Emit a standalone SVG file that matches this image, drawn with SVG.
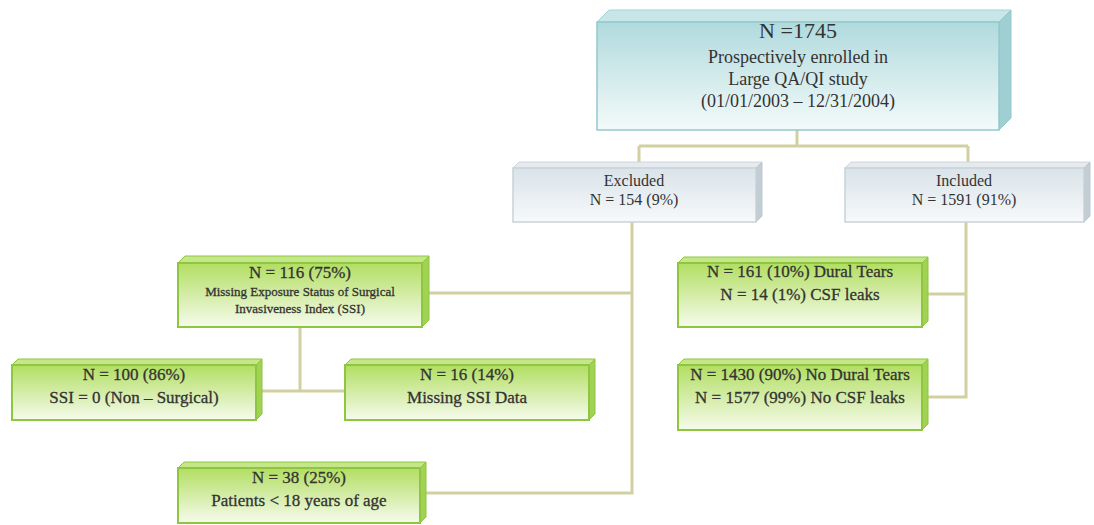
<svg xmlns="http://www.w3.org/2000/svg" width="1094" height="525" viewBox="0 0 1094 525">
<defs>
<linearGradient id="gTeal" x1="0" y1="0" x2="0" y2="1"><stop offset="0" stop-color="#b0dadd"/><stop offset="1" stop-color="#f4fafa"/></linearGradient>
<linearGradient id="gGray" x1="0" y1="0" x2="0" y2="1"><stop offset="0" stop-color="#d9e3e9"/><stop offset="1" stop-color="#f7f9fa"/></linearGradient>
<linearGradient id="gGreen" x1="0" y1="0" x2="0" y2="1"><stop offset="0" stop-color="#b2de62"/><stop offset="1" stop-color="#f6fbec"/></linearGradient>
</defs>
<style>
.teal .front{fill:url(#gTeal);stroke:#93c9cc;stroke-width:1.5}
.teal .top{fill:#c8e6e8;stroke:#a6d3d6;stroke-width:1}
.teal .side{fill:#9fcfd2;stroke:#93c9cc;stroke-width:1}
.gray .front{fill:url(#gGray);stroke:#c8d2d8;stroke-width:1.5}
.gray .top{fill:#e4eaee;stroke:#cdd6dc;stroke-width:1}
.gray .side{fill:#c3cdd4;stroke:#bcc7ce;stroke-width:1}
.green .front{fill:url(#gGreen);stroke:#8dc63f;stroke-width:2}
.green .top{fill:#c6e789;stroke:#8dc63f;stroke-width:1}
.green .side{fill:#a2d254;stroke:#8dc63f;stroke-width:1}
.conn{fill:none;stroke:#d2d0a2;stroke-width:3}
text{font-family:"Liberation Serif","Times New Roman",serif;text-anchor:middle;fill:#333}
.big{font-size:22px}
.t18{font-size:18px}
.t16{font-size:16px}
.gt{font-size:17px;stroke:#333;stroke-width:0.3}
.gs{font-size:13px;stroke:#333;stroke-width:0.3}
</style>
<g id="connectors">
<path class="conn" d="M797 130 V146 M639 146 H968 M639 146 V163 M968 146 V163"/>
<path class="conn" d="M632 222 V493 H426 M632 293 H428"/>
<path class="conn" d="M966 222 V397 H928 M928 294 H966"/>
<path class="conn" d="M300 327 V391 M262 391 H345"/>
</g>
<g id="top" class="teal">
<polygon class="top" points="597,22 609,10 1011,10 999,22"/>
<polygon class="side" points="999,22 1011,10 1011,118 999,130"/>
<rect class="front" x="597" y="22" width="402" height="108"/>
<text class="big" x="798" y="38">N =1745</text>
<text class="t18" x="798" y="63">Prospectively enrolled in</text>
<text class="t18" x="798" y="85">Large QA/QI study</text>
<text class="t18" x="798" y="107">(01/01/2003 – 12/31/2004)</text>
</g>
<g id="excluded" class="gray">
<polygon class="top" points="513,168 519,162 762,162 756,168"/>
<polygon class="side" points="756,168 762,162 762,216 756,222"/>
<rect class="front" x="513" y="168" width="243" height="54"/>
<text class="t16" x="634" y="186">Excluded</text>
<text class="t16" x="634" y="205">N = 154 (9%)</text>
</g>
<g id="included" class="gray">
<polygon class="top" points="845,168 851,162 1090,162 1084,168"/>
<polygon class="side" points="1084,168 1090,162 1090,216 1084,222"/>
<rect class="front" x="845" y="168" width="239" height="54"/>
<text class="t16" x="964" y="186">Included</text>
<text class="t16" x="964" y="205">N = 1591 (91%)</text>
</g>
<g id="n116" class="green">
<polygon class="top" points="178,263 185,256 429,256 422,263"/>
<polygon class="side" points="422,263 429,256 429,320 422,327"/>
<rect class="front" x="178" y="263" width="244" height="64"/>
<text class="gt" x="300" y="278">N = 116 (75%)</text>
<text class="gs" x="300" y="296">Missing Exposure Status of Surgical</text>
<text class="gs" x="300" y="313">Invasiveness Index (SSI)</text>
</g>
<g id="n100" class="green">
<polygon class="top" points="12,365 18,359 262,359 256,365"/>
<polygon class="side" points="256,365 262,359 262,414 256,420"/>
<rect class="front" x="12" y="365" width="244" height="55"/>
<text class="gt" x="134" y="380">N = 100 (86%)</text>
<text class="gt" x="134" y="403">SSI = 0 (Non – Surgical)</text>
</g>
<g id="n16" class="green">
<polygon class="top" points="345,365 351,359 595,359 589,365"/>
<polygon class="side" points="589,365 595,359 595,414 589,420"/>
<rect class="front" x="345" y="365" width="244" height="55"/>
<text class="gt" x="467" y="380">N = 16 (14%)</text>
<text class="gt" x="467" y="403">Missing SSI Data</text>
</g>
<g id="n161" class="green">
<polygon class="top" points="678,263 684,257 928,257 922,263"/>
<polygon class="side" points="922,263 928,257 928,321 922,327"/>
<rect class="front" x="678" y="263" width="244" height="64"/>
<text class="gt" x="800" y="277">N = 161 (10%) Dural Tears</text>
<text class="gt" x="800" y="300">N = 14 (1%) CSF leaks</text>
</g>
<g id="n1430" class="green">
<polygon class="top" points="678,365 684,359 928,359 922,365"/>
<polygon class="side" points="922,365 928,359 928,424 922,430"/>
<rect class="front" x="678" y="365" width="244" height="65"/>
<text class="gt" x="800" y="380">N = 1430 (90%) No Dural Tears</text>
<text class="gt" x="800" y="403">N = 1577 (99%) No CSF leaks</text>
</g>
<g id="n38" class="green">
<polygon class="top" points="178,468 184,462 426,462 420,468"/>
<polygon class="side" points="420,468 426,462 426,517 420,523"/>
<rect class="front" x="178" y="468" width="242" height="55"/>
<text class="gt" x="299" y="483">N = 38 (25%)</text>
<text class="gt" x="299" y="506">Patients &lt; 18 years of age</text>
</g>
</svg>
